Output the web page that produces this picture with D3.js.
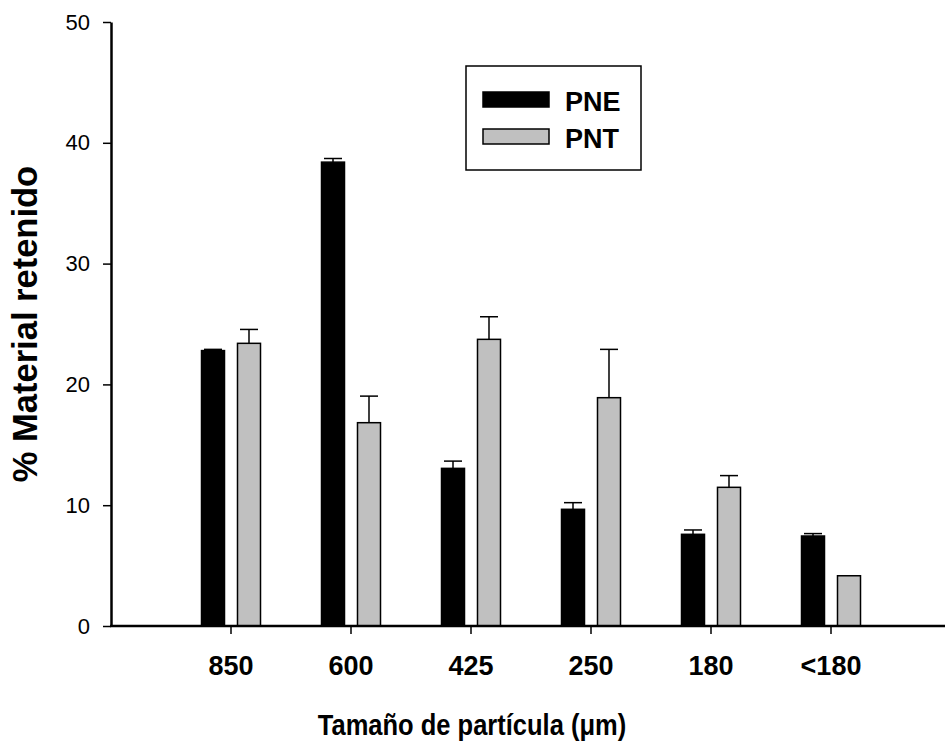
<!DOCTYPE html>
<html>
<head>
<meta charset="utf-8">
<script src="https://cdn.jsdelivr.net/npm/d3@7"></script>
<style>
  html, body { margin: 0; padding: 0; background: #fff; }
  svg { display: block; font-family: "Liberation Sans", Arial, sans-serif; }
</style>
</head>
<body>
<svg id="chart" width="945" height="749"></svg>
<script>
const categories = ["850", "600", "425", "250", "180", "<180"];
const seriesNames = ["PNE", "PNT"];
const pneValues = [22.8, 38.4, 13.05, 9.66, 7.59, 7.45];
const pneErrors = [0.1, 0.3, 0.6, 0.55, 0.36, 0.2];
const pntValues = [23.4, 16.83, 23.73, 18.9, 11.48, 4.16];
const pntErrors = [1.15, 2.2, 1.87, 4.0, 0.97, 0.0];
const yTicks = [0, 10, 20, 30, 40, 50];
const seriesColors = ["#000000", "#c0c0c0"];

const FONT = "Liberation Sans, Arial, sans-serif";
const svg = d3.select("#chart");
const x0 = 111, xEnd = 945, yTop = 22, yBottom = 626;

const x = d3.scaleBand().domain(categories).range([171, 891]);
const xs = d3.scaleBand().domain(seriesNames).range([-29.5, 29.5]).paddingInner(0.361);
const y = d3.scaleLinear().domain([0, 50]).range([yBottom, yTop]);

const data = [];
categories.forEach((c, i) => {
  data.push({cat: c, s: "PNE", v: pneValues[i], e: pneErrors[i]});
  data.push({cat: c, s: "PNT", v: pntValues[i], e: pntErrors[i]});
});
const color = d3.scaleOrdinal().domain(seriesNames).range(seriesColors);

// error bars
const eg = svg.append("g");
data.filter(d => d.e > 0).forEach(d => {
  const cx = x(d.cat) + x.bandwidth() / 2 + xs(d.s) + xs.bandwidth() / 2;
  eg.append("line").attr("x1", cx).attr("x2", cx)
    .attr("y1", y(d.v)).attr("y2", y(d.v + d.e))
    .attr("stroke", "#000").attr("stroke-width", 1.5);
  eg.append("line").attr("x1", cx - 9).attr("x2", cx + 9)
    .attr("y1", y(d.v + d.e)).attr("y2", y(d.v + d.e))
    .attr("stroke", "#000").attr("stroke-width", 1.5);
});

// bars
svg.append("g").selectAll("rect").data(data).join("rect")
  .attr("x", d => x(d.cat) + x.bandwidth() / 2 + xs(d.s))
  .attr("width", xs.bandwidth())
  .attr("y", d => y(d.v))
  .attr("height", d => y(0) - y(d.v))
  .attr("fill", d => color(d.s))
  .attr("stroke", "#000")
  .attr("stroke-width", 1.5);

// y axis
const yAxis = svg.append("g").attr("transform", `translate(${x0},0)`)
  .call(d3.axisLeft(y).tickValues(yTicks).tickSize(8).tickSizeOuter(0).tickPadding(13));
yAxis.select(".domain").attr("stroke-width", 2.5);
yAxis.selectAll(".tick line").attr("stroke-width", 1.5);
yAxis.selectAll("text").attr("font-size", 22).attr("font-family", FONT).attr("fill", "#000");

// x axis
const xAxis = svg.append("g").attr("transform", `translate(0,${yBottom})`)
  .call(d3.axisBottom(x).tickSize(8).tickSizeOuter(0).tickPadding(22));
xAxis.select(".domain").remove();
xAxis.append("line").attr("x1", x0 - 1).attr("x2", xEnd).attr("y1", 0).attr("y2", 0)
  .attr("stroke", "#000").attr("stroke-width", 2.5);
xAxis.selectAll(".tick line").attr("stroke-width", 1.5);
xAxis.selectAll("text").attr("font-size", 27).attr("font-weight", "bold")
  .attr("font-family", FONT).attr("fill", "#000");

// axis titles
svg.append("text").attr("transform", "translate(472,735) scale(1,1.15)").attr("text-anchor", "middle")
  .attr("font-size", 25.5).attr("font-weight", "bold").attr("font-family", FONT)
  .text("Tamaño de partícula (μm)");
svg.append("text").attr("transform", "translate(37,324) rotate(-90)").attr("text-anchor", "middle")
  .attr("font-size", 34.5).attr("font-weight", "bold").attr("font-family", FONT)
  .text("% Material retenido");

// legend
const lg = svg.append("g");
lg.append("rect").attr("x", 466).attr("y", 66).attr("width", 175).attr("height", 104)
  .attr("fill", "#fff").attr("stroke", "#000").attr("stroke-width", 1.5);
seriesNames.forEach((s, i) => {
  const yy = i === 0 ? 92 : 129;
  lg.append("rect").attr("x", 483).attr("y", yy).attr("width", 66).attr("height", 15)
    .attr("fill", color(s)).attr("stroke", "#000").attr("stroke-width", 1.5);
  lg.append("text").attr("x", 565).attr("y", yy + 18.5).attr("font-size", 27)
    .attr("font-weight", "bold").attr("font-family", FONT).text(s);
});
</script>
</body>
</html>
